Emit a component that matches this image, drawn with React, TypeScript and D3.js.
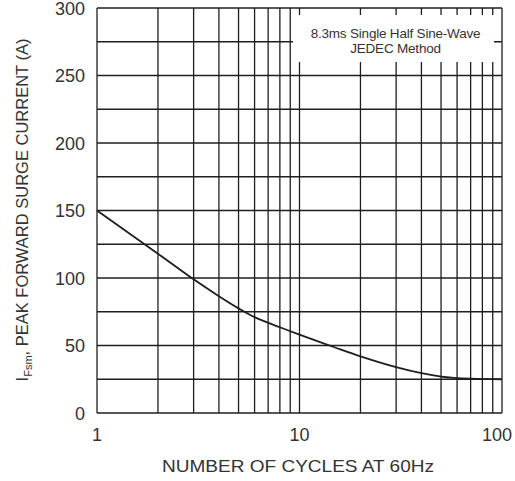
import React, { useEffect, useRef } from 'react';
import * as d3 from 'd3';

// curve
const cycles = [1, 2, 3, 4, 5, 6, 8, 10, 15, 20, 30, 40, 50, 70, 100];
const current = [150, 118, 99, 86.5, 77.5, 71, 63.5, 58, 48.5, 42, 34, 29.5, 27, 25.4, 25];

const yTicks = [0, 50, 100, 150, 200, 250, 300];
const yGrid = [0, 25, 50, 75, 100, 125, 150, 175, 200, 225, 250, 275, 300];
const xTicks = [1, 10, 100];
const xGrid = [1, 2, 3, 4, 5, 6, 7, 8, 9, 10, 20, 30, 40, 50, 60, 70, 80, 90, 100];
const noteLines = ['8.3ms Single Half Sine-Wave', 'JEDEC Method'];

const W = 515, H = 481;
const margin = { top: 8, right: 13, bottom: 68, left: 97 };

const App = () => {
  const ref = useRef(null);

  useEffect(() => {
    const svg = d3.select(ref.current);
    svg.selectAll('*').remove();

    const w = W - margin.left - margin.right;
    const h = H - margin.top - margin.bottom;
    const font = 'Arial, "Liberation Sans", sans-serif';
    const ink = '#1e1e1e';

    var x = d3.scaleLog().domain([1, 100]).range([margin.left, margin.left + w]);
    var y = d3.scaleLinear().domain([0, 300]).range([margin.top + h, margin.top]);

    svg.append('rect').attr('width', W).attr('height', H).attr('fill', '#fff');

    // grid
    const g = svg.append('g').attr('stroke', ink).attr('stroke-width', 1.3);
    g.selectAll('.vg').data(xGrid).enter().append('line')
      .attr('x1', d => x(d)).attr('x2', d => x(d))
      .attr('y1', y(0)).attr('y2', y(300));
    g.selectAll('.hg').data(yGrid).enter().append('line')
      .attr('y1', d => y(d)).attr('y2', d => y(d))
      .attr('x1', x(1)).attr('x2', x(100));

    // note box covers the grid
    const bx = 293, by = 15, bw = 201, bh = 47;
    svg.append('rect').attr('x', bx).attr('y', by).attr('width', bw).attr('height', bh).attr('fill', '#fff');
    svg.selectAll('.note').data(noteLines).enter().append('text')
      .attr('x', bx + bw / 2 + 2).attr('y', (d, i) => by + 23 + i * 15)
      .attr('text-anchor', 'middle').attr('font-family', font)
      .attr('font-size', 13.5).attr('fill', '#333').attr('letter-spacing', -0.2)
      .text(d => d);

    // curve
    const line = d3.line()
      .x((d, i) => x(cycles[i]))
      .y(d => y(d))
      .curve(d3.curveCatmullRom.alpha(0.5));
    svg.append('path').datum(current).attr('d', line)
      .attr('fill', 'none').attr('stroke', ink).attr('stroke-width', 1.8);

    // tick labels
    svg.selectAll('.yt').data(yTicks).enter().append('text')
      .attr('x', 85).attr('y', d => y(d) + 6.5)
      .attr('text-anchor', 'end').attr('font-family', font)
      .attr('font-size', 18).attr('fill', '#333').text(d => d);
    svg.selectAll('.xt').data(xTicks).enter().append('text')
      .attr('x', d => x(d) - (d === 100 ? 5 : 0)).attr('y', 441)
      .attr('text-anchor', 'middle').attr('font-family', font)
      .attr('font-size', 18).attr('fill', '#333').text(d => d);

    // axis titles
    svg.append('text').attr('x', 298).attr('y', 472)
      .attr('text-anchor', 'middle').attr('font-family', font)
      .attr('font-size', 17).attr('fill', '#333')
      .attr('textLength', 272).attr('lengthAdjust', 'spacingAndGlyphs')
      .text('NUMBER OF CYCLES AT 60Hz');

    const yl = svg.append('text')
      .attr('transform', 'translate(28,210) rotate(-90)')
      .attr('text-anchor', 'middle').attr('font-family', font)
      .attr('font-size', 16.5).attr('fill', '#333');
    yl.append('tspan').text('I');
    yl.append('tspan').attr('font-size', 11).attr('dy', 4).text('Fsm');
    yl.append('tspan').attr('dy', -4).text(', PEAK FORWARD SURGE CURRENT (A)');
  }, []);

  return (
    <svg ref={ref} width={W} height={H}
      style={{ position: 'absolute', left: 0, top: 0, display: 'block' }} />
  );
};

export default App;
